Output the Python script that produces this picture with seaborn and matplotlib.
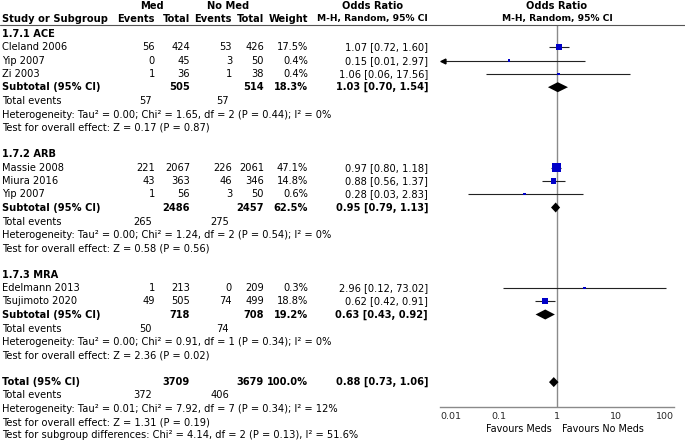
import numpy as np
import pandas as pd
import matplotlib
matplotlib.use("Agg")
import matplotlib.pyplot as plt
import seaborn as sns

# data
groups = ["1.7.1 ACE", "1.7.2 ARB", "1.7.3 MRA"]
study_group = [0, 0, 0, 1, 1, 1, 2, 2]
study_names = ["Cleland 2006", "Yip 2007", "Zi 2003",
               "Massie 2008", "Miura 2016", "Yip 2007",
               "Edelmann 2013", "Tsujimoto 2020"]
med_events = [56, 0, 1, 221, 43, 1, 1, 49]
med_total = [424, 45, 36, 2067, 363, 56, 213, 505]
nomed_events = [53, 3, 1, 226, 46, 3, 0, 74]
nomed_total = [426, 50, 38, 2061, 346, 50, 209, 499]
weights = [17.5, 0.4, 0.4, 47.1, 14.8, 0.6, 0.3, 18.8]
odds = [1.07, 0.15, 1.06, 0.97, 0.88, 0.28, 2.96, 0.62]
ci_low = [0.72, 0.01, 0.06, 0.80, 0.56, 0.03, 0.12, 0.42]
ci_high = [1.60, 2.97, 17.56, 1.18, 1.37, 2.83, 73.02, 0.91]

sub_med_total = [505, 2486, 718]
sub_nomed_total = [514, 2457, 708]
sub_weight = [18.3, 62.5, 19.2]
sub_med_events = [57, 265, 50]
sub_nomed_events = [57, 275, 74]
sub_or = [1.03, 0.95, 0.63]
sub_low = [0.70, 0.79, 0.43]
sub_high = [1.54, 1.13, 0.92]
sub_het = [
    "Heterogeneity: Tau² = 0.00; Chi² = 1.65, df = 2 (P = 0.44); I² = 0%",
    "Heterogeneity: Tau² = 0.00; Chi² = 1.24, df = 2 (P = 0.54); I² = 0%",
    "Heterogeneity: Tau² = 0.00; Chi² = 0.91, df = 1 (P = 0.34); I² = 0%",
]
sub_test = [
    "Test for overall effect: Z = 0.17 (P = 0.87)",
    "Test for overall effect: Z = 0.58 (P = 0.56)",
    "Test for overall effect: Z = 2.36 (P = 0.02)",
]

tot_med_total, tot_nomed_total, tot_weight = 3709, 3679, 100.0
tot_med_events, tot_nomed_events = 372, 406
tot_or, tot_low, tot_high = 0.88, 0.73, 1.06
tot_lines = [
    "Heterogeneity: Tau² = 0.01; Chi² = 7.92, df = 7 (P = 0.34); I² = 12%",
    "Test for overall effect: Z = 1.31 (P = 0.19)",
    "Test for subgroup differences: Chi² = 4.14, df = 2 (P = 0.13), I² = 51.6%",
]
axis_ticks = [0.01, 0.1, 1, 10, 100]
axis_labels = ["0.01", "0.1", "1", "10", "100"]

sns.set_style("white")
plt.rcParams["font.family"] = ["DejaVu Sans"]
FS = 7.1

W, H = 685, 442
fig = plt.figure(figsize=(W / 100, H / 100), dpi=100)


def put(x, y, s, ha="left", bold=False, size=FS):
    fig.text(x / W, 1 - y / H, s, ha=ha, va="center", fontsize=size,
             fontweight="bold" if bold else "normal", color="black")


# column right edges (pixels)
X_NAME, X_ME, X_MT, X_NE, X_NT, X_W, X_CI = 2, 155, 190, 232, 264, 308, 428
AX_L, AX_R, AX_TOP, AX_BOT = 440, 674, 25, 407

# headers
put(152, 6, "Med", ha="center", bold=True)
put(228, 6, "No Med", ha="center", bold=True)
put(373, 6, "Odds Ratio", ha="center", bold=True)
put((AX_L + AX_R) / 2, 6, "Odds Ratio", ha="center", bold=True)
put(X_NAME, 19, "Study or Subgroup", bold=True)
for x, s in [(X_ME, "Events"), (X_MT, "Total"), (X_NE, "Events"), (X_NT, "Total"), (X_W, "Weight")]:
    put(x, 19, s, ha="right", bold=True)
put(X_CI, 19, "M-H, Random, 95% CI", ha="right", bold=True, size=6.6)
put((AX_L + AX_R) / 2, 19, "M-H, Random, 95% CI", ha="center", bold=True, size=6.6)
fig.add_artist(plt.Line2D([0, 1], [1 - AX_TOP / H] * 2, color="#555555", lw=0.8))

# layout rows
step = 13.3
rows = {}
y = 34
group_rows, sub_rows = [], []
for g in range(len(groups)):
    group_rows.append(y)
    y += step
    for i, gi in enumerate(study_group):
        if gi == g:
            rows[i] = y
            y += step
    sub_rows.append(y)
    y += 26.5 + 3 * step + 0.7

study_y = [rows[i] for i in range(len(study_names))]
total_y = sub_rows[-1] + 14 + 2 * step + 26.5 + 0.5

fmt_ci = lambda o, l, h: f"{o:.2f} [{l:.2f}, {h:.2f}]"

for i, name in enumerate(study_names):
    yy = study_y[i]
    put(X_NAME, yy, name)
    put(X_ME, yy, str(med_events[i]), ha="right")
    put(X_MT, yy, str(med_total[i]), ha="right")
    put(X_NE, yy, str(nomed_events[i]), ha="right")
    put(X_NT, yy, str(nomed_total[i]), ha="right")
    put(X_W, yy, f"{weights[i]:.1f}%", ha="right")
    put(X_CI, yy, fmt_ci(odds[i], ci_low[i], ci_high[i]), ha="right")

for g, gname in enumerate(groups):
    put(X_NAME, group_rows[g], gname, bold=True)
    ys = sub_rows[g]
    put(X_NAME, ys, "Subtotal (95% CI)", bold=True)
    put(X_MT, ys, str(sub_med_total[g]), ha="right", bold=True)
    put(X_NT, ys, str(sub_nomed_total[g]), ha="right", bold=True)
    put(X_W, ys, f"{sub_weight[g]:.1f}%", ha="right", bold=True)
    put(X_CI, ys, fmt_ci(sub_or[g], sub_low[g], sub_high[g]), ha="right", bold=True)
    ye = ys + 14
    put(X_NAME, ye, "Total events")
    put(X_ME - 3, ye, str(sub_med_events[g]), ha="right")
    put(X_NE - 3, ye, str(sub_nomed_events[g]), ha="right")
    put(X_NAME, ye + step, sub_het[g])
    put(X_NAME, ye + 2 * step, sub_test[g])

put(X_NAME, total_y, "Total (95% CI)", bold=True)
put(X_MT, total_y, str(tot_med_total), ha="right", bold=True)
put(X_NT, total_y, str(tot_nomed_total), ha="right", bold=True)
put(X_W, total_y, f"{tot_weight:.1f}%", ha="right", bold=True)
put(X_CI, total_y, fmt_ci(tot_or, tot_low, tot_high), ha="right", bold=True)
put(X_NAME, total_y + step, "Total events")
put(X_ME - 3, total_y + step, str(tot_med_events), ha="right")
put(X_NE - 3, total_y + step, str(tot_nomed_events), ha="right")
for k, s in enumerate(tot_lines):
    put(X_NAME, total_y + (k + 2) * step, s)

# forest panel
ax = fig.add_axes([AX_L / W, 1 - AX_BOT / H, (AX_R - AX_L) / W, (AX_BOT - AX_TOP) / H])
ax.set_xscale("log")
ax.set_xlim(axis_ticks[0], axis_ticks[-1])
ax.set_ylim(AX_BOT, AX_TOP)
ax.patch.set_alpha(0)
for s in ["top", "left", "right"]:
    ax.spines[s].set_visible(False)
ax.spines["bottom"].set_color("#8a8a8a")
ax.spines["bottom"].set_linewidth(1)
ax.axvline(1, color="#8a8a8a", lw=1, zorder=0)
ax.set_yticks([])
ax.set_xticks(axis_ticks)
ax.set_xticklabels(axis_labels, fontsize=6.8)
ax.xaxis.set_minor_locator(matplotlib.ticker.NullLocator())
ax.tick_params(axis="x", direction="inout", length=6, width=0.8, color="#8a8a8a", pad=0.5)
labs = ax.get_xticklabels()
labs[0].set_ha("left")
labs[-1].set_ha("right")

df = pd.DataFrame({"y": study_y, "odds": odds, "lo": ci_low, "hi": ci_high, "w": weights})
xmin, xmax = axis_ticks[0], axis_ticks[-1]
ax.hlines(df["y"], df["lo"].clip(lower=xmin), df["hi"].clip(upper=xmax), color="#222222", lw=0.8)
for _, r in df[df["lo"] <= xmin].iterrows():
    ax.plot(xmin * 1.13, r["y"], marker="<", ms=3.5, color="black", clip_on=False)
sns.scatterplot(data=df, x="odds", y="y", size="w", sizes=(3, 42), size_norm=(0.3, 47.1),
                marker="s", color="#0000c8", linewidth=0, legend=False, ax=ax, zorder=3)

dia_y = sub_rows + [total_y]
dia_or = sub_or + [tot_or]
dia_lo = sub_low + [tot_low]
dia_hi = sub_high + [tot_high]
for yy, o, lo, hi in zip(dia_y, dia_or, dia_lo, dia_hi):
    ax.fill([lo, o, hi, o], [yy, yy - 5, yy, yy + 5], color="black", lw=0, zorder=3)
ax.set_xlabel("")
ax.set_ylabel("")

put(552, 429, "Favours Meds", ha="right", size=6.9)
put(562, 429, "Favours No Meds", ha="left", size=6.9)

plt.savefig("out.png", dpi=100)
